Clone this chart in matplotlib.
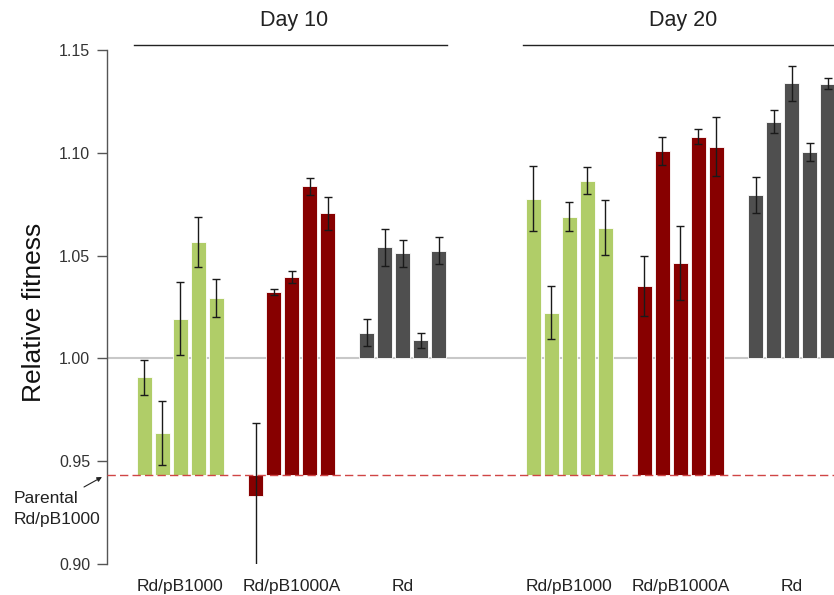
import matplotlib.pyplot as plt
import matplotlib.transforms as mtransforms
import numpy as np

plt.rcParams['font.family'] = ['Liberation Sans', 'DejaVu Sans']

days = ["Day 10", "Day 20"]
strains = ["Rd/pB1000", "Rd/pB1000A", "Rd"]
colors = ["#b0cd68", "#870000", "#4f4f4f"]
parental = 0.9434  # fitness of parental Rd/pB1000
# Rd bars are drawn from 1.00, the plasmid carriers from the parental level
bases = [parental, parental, 1.0]

# five replicate lines per strain, Day 10
d10_pb1000 = [0.9909, 0.9639, 1.0193, 1.0566, 1.0295]
d10_pb1000_err = [0.0085, 0.0156, 0.0178, 0.0122, 0.0092]
d10_pb1000a = [0.9331, 1.0323, 1.0396, 1.0837, 1.0705]
d10_pb1000a_err = [0.0355, 0.0013, 0.0028, 0.0042, 0.0080]
d10_rd = [1.0125, 1.0540, 1.0511, 1.0088, 1.0524]
d10_rd_err = [0.0065, 0.0090, 0.0067, 0.0037, 0.0066]

# Day 20
d20_pb1000 = [1.0777, 1.0222, 1.0689, 1.0864, 1.0636]
d20_pb1000_err = [0.0158, 0.0130, 0.0070, 0.0065, 0.0132]
d20_pb1000a = [1.0352, 1.1009, 1.0462, 1.1079, 1.1030]
d20_pb1000a_err = [0.0146, 0.0068, 0.0180, 0.0038, 0.0142]
d20_rd = [1.0796, 1.1150, 1.1338, 1.1005, 1.1336]
d20_rd_err = [0.0088, 0.0056, 0.0085, 0.0043, 0.0026]

values = [[d10_pb1000, d10_pb1000a, d10_rd], [d20_pb1000, d20_pb1000a, d20_rd]]
errors = [[d10_pb1000_err, d10_pb1000a_err, d10_rd_err],
          [d20_pb1000_err, d20_pb1000a_err, d20_rd_err]]

# layout in bar slots
first = 2.08
group_step = 6.17
day_step = 21.61
width = 0.8

fig = plt.figure(figsize=(8.34, 5.95), dpi=100)
ax = fig.add_axes([107 / 834, 1 - 564 / 595, 727 / 834, 514 / 595])
ax.set_xlim(0, 727 / 18)
ax.set_ylim(0.90, 1.15)

ax.axhline(1.0, color="#c8c8c8", lw=1.5, zorder=0)
ax.axhline(parental, color="#d04545", lw=1, ls=(0, (6, 3)), zorder=3, clip_on=False)

tick_pos, tick_lab = [], []
blend = mtransforms.blended_transform_factory(ax.transData, ax.transAxes)
for d, day in enumerate(days):
    day_x = []
    for g, strain in enumerate(strains):
        x = first + d * day_step + g * group_step + np.arange(5)
        v = np.array(values[d][g])
        ax.bar(x, v - bases[g], width=width, bottom=bases[g], color=colors[g],
               edgecolor="white", linewidth=0.6, zorder=2)
        ax.errorbar(x, v, yerr=errors[d][g], fmt="none", ecolor="#1a1a1a",
                    elinewidth=1, capsize=3, capthick=1, zorder=4)
        tick_pos.append(x.mean())
        tick_lab.append(strain)
        day_x.extend(x)
    x0, x1 = min(day_x) - 0.6, max(day_x) + 0.45
    ax.plot([x0, x1], [1.0107, 1.0107], color="#222222", lw=1, transform=blend,
            clip_on=False)
    ax.text((min(day_x) + max(day_x)) / 2 + 0.15, 1.058, day, transform=blend,
            ha="center", va="center", fontsize=15.5, color="#222222")

ax.set_xticks(tick_pos)
ax.set_xticklabels(tick_lab, fontsize=12.5, color="#222222")
ax.tick_params(axis="x", length=0, pad=11)

ax.set_yticks([0.90, 0.95, 1.00, 1.05, 1.10, 1.15])
ax.set_yticklabels(["0.90", "0.95", "1.00", "1.05", "1.10", "1.15"])
ax.tick_params(axis="y", length=7, width=1, color="#555555", labelsize=11.5,
               labelcolor="#333333", pad=5)

for s in ["top", "right", "bottom"]:
    ax.spines[s].set_visible(False)
ax.spines["left"].set_color("#555555")
ax.spines["left"].set_linewidth(1)

ax.set_ylabel("Relative fitness", fontsize=19, color="#111111")
ax.yaxis.set_label_coords(-0.084, 0.49)

# parental marker note
ax.annotate("", xy=(102 / 834, 1 - 477 / 595), xycoords="figure fraction",
            xytext=(84 / 834, 1 - 487 / 595), textcoords="figure fraction",
            arrowprops=dict(arrowstyle="-|>", color="#222222", lw=0.8,
                            mutation_scale=7, shrinkA=0, shrinkB=0))
fig.text(14 / 834, 1 - 509 / 595, "Parental\nRd/pB1000", ha="left", va="center",
         fontsize=12.5, color="#222222", linespacing=1.5)

fig.savefig("out.png", dpi=100)
